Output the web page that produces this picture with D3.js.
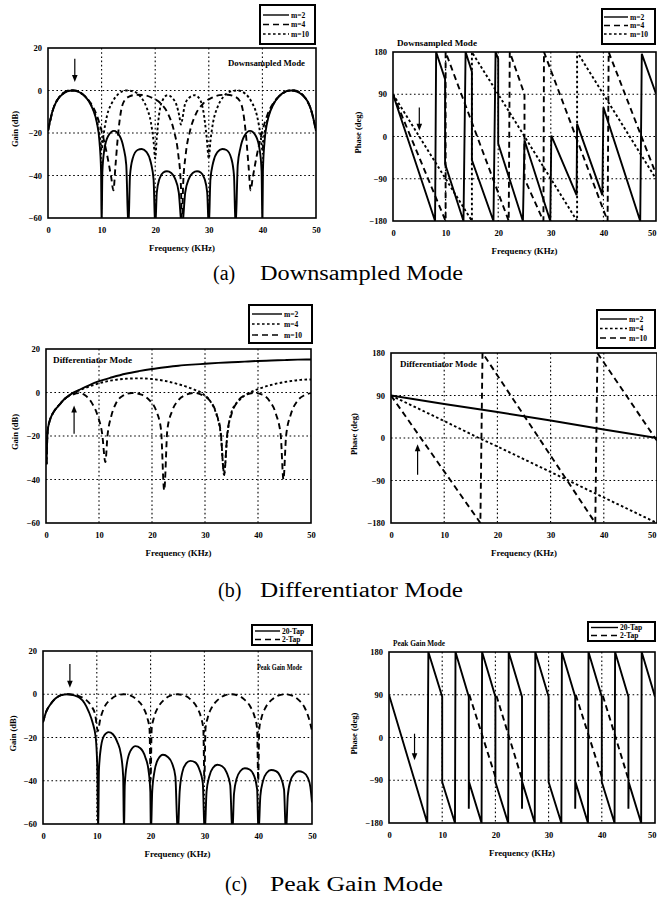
<!DOCTYPE html>
<html>
<head>
<meta charset="utf-8">
<script src="https://cdn.jsdelivr.net/npm/d3@7"></script>
<style>
  body { margin: 0; background: #fff; }
  svg { display: block; }
</style>
</head>
<body>
<svg id="fig" width="657" height="902"></svg>
<script>
// ---- tick labels ----
var freqTicks = [0, 10, 20, 30, 40, 50];
var gainTicks = [20, 0, -20, -40, -60];
var phaseTicks = [180, 90, 0, -90, -180];

// ---- (a) downsampled mode, gain (dB) vs kHz ----
var dsGainM2 = [[0,-19],[0.8,-10],[1.6,-5],[2.6,-2],[3.6,-0.4],[4.6,0],[5.6,-0.5],[6.6,-2],[7.6,-5],[8.4,-9],[9.1,-15],[9.6,-24],[9.9,-38],[10,-65],
  [10.15,-38],[10.5,-28],[11.2,-21.5],[12.3,-19],[13.4,-21.5],[14.1,-27],[14.6,-35],[15,-65],
  [15.3,-40],[15.8,-32],[16.7,-28],[17.5,-27.5],[18.4,-29],[19.2,-34],[19.7,-42],[20,-65],
  [20.3,-48],[20.8,-41.5],[21.5,-38.6],[22.2,-38],[23,-38.8],[23.7,-41.5],[24.4,-48],[25,-65],
  [25.6,-48],[26.3,-41.5],[27,-38.8],[27.8,-38],[28.5,-38.6],[29.2,-41.5],[29.7,-48],[30,-65],
  [30.3,-42],[30.8,-34],[31.6,-29],[32.5,-27.5],[33.3,-28],[34.2,-32],[34.7,-40],[35,-65],
  [35.4,-35],[35.9,-27],[36.6,-21.5],[37.7,-19],[38.8,-21.5],[39.5,-28],[39.85,-38],[40,-65],
  [40.1,-38],[40.4,-24],[40.9,-15],[41.6,-9],[42.4,-5],[43.4,-2],[44.4,-0.4],[45.4,0],[46.4,-0.5],[47.4,-2],[48.4,-5],[49.2,-10],[50,-19]];
var dsGainM4 = [[0,-19],[1,-8.5],[2,-3.5],[3,-1],[4,0],[5,0],[6,-1],[7,-3],[8,-6],[9,-11],[10,-19],[11,-30],[11.8,-41],[12.2,-47],
  [12.6,-35],[13.1,-20],[13.6,-10],[14.2,-5],[15.2,-2.8],[16.5,-2],[18,-2.2],[19.5,-3.5],[21,-6],[22.4,-11],[23.5,-19],[24.3,-30],[24.8,-45],[25,-65],
  [25.2,-45],[25.7,-30],[26.5,-19],[27.6,-11],[29,-6],[30.5,-3.5],[32,-2.2],[33.5,-2],[34.8,-2.8],[35.8,-5],[36.4,-10],[36.9,-20],[37.4,-35],[37.8,-47],
  [38.2,-41],[39,-30],[40,-19],[41,-11],[42,-6],[43,-3],[44,-1],[45,0],[46,0],[47,-1],[48,-3.5],[49,-8.5],[50,-19]];
var dsGainM10 = [[0,-19],[1,-8.5],[2,-3.5],[3,-1],[4,0],[5,0],[6,-1],[7,-3],[8,-6.5],[9,-13],[9.7,-22],[10,-28],
  [10.3,-22],[11,-12],[12,-5.5],[13.2,-1.5],[14.6,0],[16,-0.5],[17.3,-3],[18.4,-8],[19.2,-15],[19.7,-24],[20,-32],
  [20.3,-22],[20.8,-10],[21.5,-4],[22.3,-2.2],[23.2,-3.5],[24,-7],[24.5,-12],[24.8,-16],[25.1,-13],
  [25.5,-7],[26.3,-3.5],[27.4,-2.2],[28.3,-4],[29,-10],[29.6,-22],[30,-32],
  [30.3,-24],[30.8,-15],[31.6,-8],[32.7,-3],[34,-0.5],[35.4,0],[36.8,-1.5],[38,-5.5],[39,-12],[39.7,-22],[40,-28],
  [40.3,-22],[41,-13],[42,-6.5],[43,-3],[44,-1],[45,0],[46,0],[47,-1],[48,-3.5],[49,-8.5],[50,-19]];

// ---- (a) downsampled mode, phase (deg) ----
var dsPhaseM2 = [[0,90],[8,-180],[8.2,180],[9.9,122],[9.9,-58],[13.4,-180],[13.8,180],[15,138],[15,-50],[19.1,-180],
  [19.5,180],[20,165],[20,-15],[24.7,-180],[25,-8],[29.9,-180],[30.1,2],[34.9,-125],[35,27],[39.8,-125],[40,62],[47,-180],[47.3,176],[50,91]];
var dsPhaseM4 = [[0,90],[10,-180],[10,180],[22,-180],[22.2,180],[25,90],[25,-90],[28.6,-180],[28.7,180],[40.8,-180],[41,180],[50,-80]];
var dsPhaseM10 = [[0,90],[15,-180],[15,180],[35,-180],[35,180],[50,-90]];

// ---- (b) differentiator mode ----
var dfGainM2 = [[0.1,-33],[0.3,-18],[0.7,-13],[1,-11],[1.7,-8],[2.5,-5.7],[3.5,-3],[5,-0.3],[6.5,1.5],[8,3.2],[10,5.2],[12.5,7],[15,8.6],
  [17.5,9.8],[20,10.8],[22.5,11.6],[25,12.3],[27.5,12.8],[30,13.2],[32.5,13.6],[35,13.9],[37.5,14.2],[40,14.5],[42.5,14.7],[45,14.9],[47.5,15.1],[50,15.2]];
var dfGainM4 = [[0.1,-33],[0.3,-18],[0.7,-13],[1,-11],[1.7,-8],[2.5,-5.7],[3.5,-3],[5,-0.5],[6.5,1.2],[8,2.6],[10,4.2],[12.5,5.6],[15,6.3],
  [17.5,6.5],[20,6.2],[22.5,5.3],[25,3.8],[27.5,1.8],[29.5,-0.5],[31,-4],[32,-9],[33,-20],[33.6,-37],[34.2,-20],[35,-9],[36.5,-3.5],
  [38.5,0],[40.5,2],[43,3.8],[45.5,5],[48,5.8],[50,6]];
var dfGainM10 = [[0.1,-33],[0.3,-18],[0.7,-13],[1,-11],[1.7,-8],[2.5,-5.7],[3.5,-3],[5,-1],[6.2,-0.3],[7.5,-1.5],[8.7,-5],[9.8,-11],[10.6,-19],[11.2,-32],
  [11.6,-20],[12.3,-11],[13.2,-5],[14.5,-1.5],[16.2,-0.2],[18,-1],[19.5,-3.5],[20.8,-8.5],[21.7,-17],[22.3,-45],
  [22.9,-17],[23.8,-8.5],[25,-3.5],[26.5,-1],[28,-0.2],[29.5,-1.2],[31,-4],[32.2,-10],[33,-19],[33.6,-38],
  [34.2,-19],[35,-10],[36.2,-4],[37.6,-1.2],[39.2,-0.2],[40.8,-1],[42.2,-4],[43.4,-10],[44.3,-20],[44.8,-40],
  [45.3,-20],[46.2,-10],[47.4,-4],[48.8,-1.2],[50,-0.3]];
var dfPhaseM2 = [[0,90],[10,72],[20,55],[30,37],[40,18],[50,0]];
var dfPhaseM4 = [[0,90],[10,36],[16.5,0],[20,-18],[30,-72],[40,-126],[50,-180]];
var dfPhaseM10 = [[0,90],[16.8,-180],[17.2,180],[38.4,-180],[38.8,180],[50,-6]];

// ---- (c) peak gain mode ----
var pgGain20 = [[0,-13],[0.6,-8],[1.3,-5],[2.3,-2],[3.4,-0.4],[4.6,0],[5.8,-0.5],[6.8,-1.6],[7.7,-4],[8.5,-8],[9.2,-13],[9.8,-20],[10.1,-35],[10.25,-65],
  [10.4,-35],[10.8,-24],[11.4,-19],[12.2,-17.5],[13,-18.5],[13.8,-22],[14.5,-28],[14.9,-38],[15.05,-65],
  [15.2,-42],[15.6,-32],[16.3,-26],[17.2,-24],[18.1,-25],[19,-29],[19.6,-35],[19.95,-45],[20.05,-65],
  [20.3,-45],[20.7,-36],[21.4,-30],[22.3,-28],[23.2,-29],[24,-32],[24.6,-38],[25.05,-65],
  [25.4,-45],[25.9,-36],[26.6,-32],[27.4,-30.8],[28.3,-31.5],[29.1,-35],[29.7,-41],[30.05,-65],
  [30.4,-45],[30.9,-38],[31.6,-34],[32.4,-32.6],[33.3,-33.3],[34.1,-36],[34.8,-42],[35.2,-65],
  [35.5,-46],[36,-39],[36.7,-35.5],[37.5,-34.2],[38.4,-34.8],[39.2,-37.5],[39.8,-44],[40.05,-65],
  [40.4,-47],[40.9,-40],[41.6,-36.3],[42.4,-35],[43.3,-35.5],[44.1,-38],[44.8,-44],[45.15,-65],
  [45.5,-47],[46,-40],[46.7,-36.8],[47.5,-35.6],[48.4,-36.2],[49.2,-38.5],[49.7,-43],[50,-50]];
var pgGain2 = [[0,-13],[0.6,-8],[1.3,-5],[2.3,-2],[3.4,-0.4],[4.6,0],[5.8,-0.3],[7,-1.2],[8,-2.6],[9,-5.5],[9.7,-9.5],[10.2,-17],
  [10.6,-12],[11.4,-6],[12.5,-2.6],[13.7,-0.6],[15,0],[16.3,-0.6],[17.5,-2.6],[18.6,-6],[19.4,-11],[19.8,-16],[20,-40],
  [20.2,-16],[20.6,-11],[21.4,-6],[22.5,-2.6],[23.7,-0.6],[25,0],[26.3,-0.6],[27.5,-2.6],[28.6,-6],[29.4,-11],[29.8,-16],[30,-40],
  [30.2,-16],[30.6,-11],[31.4,-6],[32.5,-2.6],[33.7,-0.6],[35,0],[36.3,-0.6],[37.5,-2.6],[38.6,-6],[39.4,-11],[39.8,-16],[40,-40],
  [40.2,-16],[40.6,-11],[41.4,-6],[42.5,-2.6],[43.7,-0.6],[45,0],[46.3,-0.6],[47.5,-2.6],[48.6,-6],[49.4,-11],[50,-17]];
var pgPhase20 = [[0,90],[7.2,-180],[7.4,180],[10,86],[10,-94],[12.4,-180],[12.5,180],[15,86],[15,-150],[15.05,-94],[17.4,-180],
  [17.5,180],[20,86],[20,-94],[22.4,-180],[22.5,180],[25,86],[25,-150],[25.05,-94],[27.4,-180],
  [27.5,180],[30,86],[30,-94],[32.4,-180],[32.5,180],[35,86],[35,-150],[35.05,-94],[37.4,-180],
  [37.5,180],[40,86],[40,-94],[42.4,-180],[42.5,180],[45,86],[45,-150],[45.05,-94],[47.4,-180],[47.5,180],[50,86]];
var pgPhase2 = [[15.1,90],[20.2,-90],null,[20.2,88],[25,-88],null,[35.1,90],[40.2,-90],null,[40.2,88],[45,-88]];

// ---- layout ----
var dashes = { solid: null, dash: "6,4", dot: "2.6,2.4" };
var tickFont = "'Liberation Serif', 'DejaVu Serif', serif";
var captionFont = "'Liberation Serif', 'DejaVu Serif', serif";

var panels = [
  { id: "a1", box: [48, 316, 48, 218], yTicks: gainTicks, ylab: "Gain (dB)", ylabX: 15, smooth: true,
    series: [{ data: dsGainM2, style: "solid", name: "m=2" }, { data: dsGainM4, style: "dash", name: "m=4" }, { data: dsGainM10, style: "dot", name: "m=10" }],
    legend: { x: 260, y: 5, w: 55, h: 39, rows: [15, 24.5, 34], l0: 263, l1: 289, t: 291 },
    mode: { text: "Downsampled Mode", x: 228, y: 66, w: 77 }, arrow: { x: 5, from: 15, to: 4 } },
  { id: "a2", box: [393, 656, 52, 221], yTicks: phaseTicks, ylab: "Phase (deg)", ylabX: 358, smooth: false,
    series: [{ data: dsPhaseM2, style: "solid", name: "m=2" }, { data: dsPhaseM4, style: "dash", name: "m=4" }, { data: dsPhaseM10, style: "dot", name: "m=10" }],
    legend: { x: 602, y: 9, w: 53, h: 35, rows: [17, 25.5, 34], l0: 604, l1: 628, t: 630 },
    mode: { text: "Downsampled Mode", x: 397, y: 46, w: 80 }, arrow: { x: 5, from: 62, to: 12 } },
  { id: "b1", box: [46, 311, 349, 523], yTicks: gainTicks, ylab: "Gain (dB)", ylabX: 15, smooth: true,
    series: [{ data: dfGainM2, style: "solid", name: "m=2" }, { data: dfGainM4, style: "dot", name: "m=4" }, { data: dfGainM10, style: "dash", name: "m=10" }],
    legend: { x: 249, y: 305, w: 63, h: 38, rows: [314, 324, 335], l0: 252, l1: 282, t: 284 },
    mode: { text: "Differentiator Mode", x: 53, y: 363, w: 79 }, arrow: { x: 5.3, from: -19, to: -6 } },
  { id: "b2", box: [391, 657, 353, 523], yTicks: phaseTicks, ylab: "Phase (deg)", ylabX: 354, smooth: false,
    series: [{ data: dfPhaseM2, style: "solid", name: "m=2" }, { data: dfPhaseM4, style: "dot", name: "m=4" }, { data: dfPhaseM10, style: "dash", name: "m=10" }],
    legend: { x: 597, y: 310, w: 58, h: 38, rows: [319, 328.5, 338], l0: 600, l1: 627, t: 629 },
    mode: { text: "Differentiator Mode", x: 400, y: 367, w: 77 }, arrow: { x: 5, from: -78, to: -13 } },
  { id: "c1", box: [43, 312, 651, 824], yTicks: gainTicks, ylab: "Gain (dB)", ylabX: 13, smooth: true,
    series: [{ data: pgGain20, style: "solid", name: "20-Tap" }, { data: pgGain2, style: "dash", name: "2-Tap" }],
    legend: { x: 252, y: 625, w: 60, h: 20, rows: [631, 639.5], l0: 255, l1: 280, t: 282 },
    mode: { text: "Peak Gain Mode", x: 257, y: 670, w: 45 }, arrow: { x: 5, from: 14, to: 3 } },
  { id: "c2", box: [389, 655, 652, 823], yTicks: phaseTicks, ylab: "Phase (deg)", ylabX: 354, smooth: false,
    series: [{ data: pgPhase20, style: "solid", name: "20-Tap" }, { data: pgPhase2, style: "dash", name: "2-Tap" }],
    legend: { x: 588, y: 622, w: 67, h: 19, rows: [627.5, 635.5], l0: 591, l1: 618, t: 620 },
    mode: { text: "Peak Gain Mode", x: 393, y: 646, w: 52 }, arrow: { x: 4.8, from: 8, to: -48 } }
];

var captions = [
  { tag: "(a)", text: "Downsampled Mode", x: 213, tx: 260, y: 280, w: 203 },
  { tag: "(b)", text: "Differentiator Mode", x: 218, tx: 260, y: 597, w: 203 },
  { tag: "(c)", text: "Peak Gain Mode", x: 225, tx: 270, y: 891, w: 173 }
];

var svg = d3.select("#fig");

function drawPanel(p) {
  var b = p.box;
  var x = d3.scaleLinear().domain([0, 50]).range([b[0], b[1]]);
  var y = d3.scaleLinear().domain([p.yTicks[p.yTicks.length - 1], p.yTicks[0]]).range([b[3], b[2]]);
  var g = svg.append("g").attr("id", "panel-" + p.id);

  g.append("clipPath").attr("id", "clip-" + p.id)
    .append("rect").attr("x", b[0]).attr("y", b[2]).attr("width", b[1] - b[0]).attr("height", b[3] - b[2]);

  // dotted grid
  g.selectAll(".vgrid").data(freqTicks.slice(1, -1)).enter().append("line")
    .attr("x1", d => x(d)).attr("x2", d => x(d)).attr("y1", b[2]).attr("y2", b[3])
    .attr("stroke", "#000").attr("stroke-width", 1.1).attr("stroke-dasharray", "1.6,2.6");
  g.selectAll(".hgrid").data(p.yTicks.slice(1, -1)).enter().append("line")
    .attr("y1", d => y(d)).attr("y2", d => y(d)).attr("x1", b[0]).attr("x2", b[1])
    .attr("stroke", "#000").attr("stroke-width", 1.1).attr("stroke-dasharray", "1.6,2.6");

  // curves
  var plot = g.append("g").attr("clip-path", "url(#clip-" + p.id + ")");
  var line = d3.line().defined(d => d !== null)
    .x(d => x(d[0])).y(d => y(d[1]))
    .curve(p.smooth ? d3.curveMonotoneX : d3.curveLinear);
  p.series.forEach(s => {
    plot.append("path").datum(s.data).attr("d", line)
      .attr("fill", "none").attr("stroke", "#000").attr("stroke-width", 1.9)
      .attr("stroke-dasharray", dashes[s.style]);
  });

  // frame
  g.append("rect").attr("x", b[0]).attr("y", b[2]).attr("width", b[1] - b[0]).attr("height", b[3] - b[2])
    .attr("fill", "none").attr("stroke", "#000").attr("stroke-width", 1.6);

  // axes
  var ax = g.append("g").attr("transform", "translate(0," + b[3] + ")")
    .call(d3.axisBottom(x).tickValues(freqTicks).tickSize(0).tickPadding(9));
  var ay = g.append("g").attr("transform", "translate(" + b[0] + ",0)")
    .call(d3.axisLeft(y).tickValues(p.yTicks).tickSize(0).tickPadding(6));
  [ax, ay].forEach(a => {
    a.select(".domain").remove();
    a.attr("font-family", tickFont).attr("font-size", 8.5).attr("font-weight", "bold");
  });
  // keep the last frequency label inside the page when the plot reaches the edge
  ax.selectAll(".tick text").filter(d => d === 50 && x(50) > 650)
    .attr("text-anchor", "end").attr("dx", 656 - x(50));

  g.append("text").attr("x", (b[0] + b[1]) / 2).attr("y", b[3] + 33)
    .attr("text-anchor", "middle").attr("font-family", tickFont).attr("font-size", 8.5).attr("font-weight", "bold")
    .attr("textLength", 66).attr("lengthAdjust", "spacingAndGlyphs").text("Frequency (KHz)");
  g.append("text")
    .attr("transform", "translate(" + p.ylabX + "," + ((b[2] + b[3]) / 2 - 4) + ") rotate(-90)")
    .attr("text-anchor", "middle").attr("dy", "0.35em").attr("font-family", tickFont).attr("font-size", 8.5).attr("font-weight", "bold")
    .text(p.ylab);

  // mode label
  g.append("text").attr("x", p.mode.x).attr("y", p.mode.y)
    .attr("font-family", tickFont).attr("font-size", 8).attr("font-weight", "bold")
    .attr("textLength", p.mode.w).attr("lengthAdjust", "spacingAndGlyphs").text(p.mode.text);

  // arrow
  var ax0 = x(p.arrow.x), y0 = y(p.arrow.from), y1 = y(p.arrow.to);
  var dir = y1 > y0 ? 1 : -1;
  g.append("line").attr("x1", ax0).attr("x2", ax0).attr("y1", y0).attr("y2", y1 - dir * 6)
    .attr("stroke", "#000").attr("stroke-width", 1.2);
  g.append("path")
    .attr("d", "M" + (ax0 - 2.8) + "," + (y1 - dir * 7) + "L" + ax0 + "," + y1 + "L" + (ax0 + 2.8) + "," + (y1 - dir * 7) + "Z")
    .attr("fill", "#000");

  // legend
  var L = p.legend;
  var lg = g.append("g");
  lg.append("rect").attr("x", L.x).attr("y", L.y).attr("width", L.w).attr("height", L.h)
    .attr("fill", "#fff").attr("stroke", "#000").attr("stroke-width", 2);
  p.series.forEach((s, i) => {
    lg.append("line").attr("x1", L.l0).attr("x2", L.l1).attr("y1", L.rows[i]).attr("y2", L.rows[i])
      .attr("stroke", "#000").attr("stroke-width", 1.4).attr("stroke-dasharray", dashes[s.style]);
    lg.append("text").attr("x", L.t).attr("y", L.rows[i] + 2.6)
      .attr("font-family", tickFont).attr("font-size", 7.5).attr("font-weight", "bold").attr("fill", "#000").text(s.name);
  });
}

panels.forEach(drawPanel);

// figure captions
captions.forEach(c => {
  svg.append("text").attr("x", c.x).attr("y", c.y)
    .attr("font-family", captionFont).attr("font-size", 20).text(c.tag);
  svg.append("text").attr("x", c.tx).attr("y", c.y)
    .attr("font-family", captionFont).attr("font-size", 20)
    .attr("textLength", c.w).attr("lengthAdjust", "spacingAndGlyphs").text(c.text);
});
</script>
</body>
</html>
